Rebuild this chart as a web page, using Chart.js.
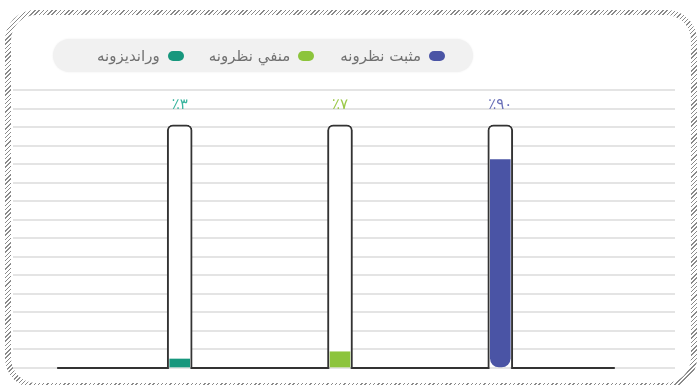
<!DOCTYPE html>
<html lang="ps" dir="ltr">
<head>
<meta charset="utf-8">
<script src="https://cdn.jsdelivr.net/npm/chart.js@4.4.1/dist/chart.umd.min.js"></script>
<style>
  html, body { margin: 0; padding: 0; background: #fff; }
  #wrap { position: relative; width: 698px; height: 385px; overflow: hidden; }
  #frame {
    position: absolute; left: 5px; top: 10px; width: 692px; height: 378px;
    border-radius: 30px;
    background: repeating-linear-gradient(135deg, #8a8a8a 0 1px, #fff 1px 3px);
  }
  #frame-inner {
    position: absolute; left: 6px; top: 5px; right: 6px; bottom: 5px;
    border-radius: 25px; background: #fff;
  }
  #legend {
    position: absolute; left: 53px; top: 39px; width: 420px; height: 33px;
    border-radius: 17px; background: #f1f1f1;
    box-shadow: 0 0 2px rgba(0,0,0,0.08);
    direction: rtl; display: flex; padding-right: 28px; box-sizing: border-box;
  }
  .item { width: 140px; display: flex; align-items: center; direction: rtl; }
  .swatch { width: 16px; height: 10px; border-radius: 5px; margin-left: 8px; }
  .item span {
    font-family: "DejaVu Sans", sans-serif; font-size: 15px; color: #707070;
  }
  #chart-box { position: absolute; left: 0; top: 0; width: 698px; height: 385px; }
</style>
</head>
<body>
<div id="wrap">
  <div id="frame"><div id="frame-inner"></div></div>
  <div id="chart-box"><canvas id="chart"></canvas></div>
  <div id="legend"></div>
</div>
<script>
// categories, values, colours
const categories = ["وراندیزونه", "منفي نظرونه", "مثبت نظرونه"];
const values = [3, 7, 90];
const barColors = ["#17977d", "#8cc43c", "#4a54a5"];
const labelColors = ["#3bb59f", "#9cc94a", "#6a70b8"];
const positions = [1, 2, 3];
const tubeValue = 105;
const yMax = 120;
const baseStart = 0.24;
const baseEnd = 3.71;

const persianDigits = "۰۱۲۳۴۵۶۷۸۹";
function toPersian(n) {
  return String(n).replace(/[0-9]/g, d => persianDigits[d]);
}

// html legend, rtl order: blue first on the right
const legend = document.getElementById("legend");
[2, 1, 0].forEach(i => {
  const item = document.createElement("div");
  item.className = "item";
  const sw = document.createElement("div");
  sw.className = "swatch";
  sw.style.background = barColors[i];
  const txt = document.createElement("span");
  txt.textContent = categories[i];
  item.appendChild(sw);
  item.appendChild(txt);
  legend.appendChild(item);
});

// baseline with gaps at the tubes + percent labels
const tubePlugin = {
  id: "tubes",
  afterDatasetsDraw(chart) {
    const ctx = chart.ctx;
    const x = chart.scales.x;
    const y = chart.scales.y;
    const base = y.getPixelForValue(0);
    const tubes = chart.getDatasetMeta(1).data;

    ctx.save();
    ctx.strokeStyle = "#333";
    ctx.lineWidth = 2;
    ctx.lineCap = "round";
    let from = x.getPixelForValue(baseStart);
    tubes.forEach(el => {
      const left = el.x - el.width / 2;
      ctx.beginPath();
      ctx.moveTo(from, base);
      ctx.lineTo(left + 1, base);
      ctx.stroke();
      from = el.x + el.width / 2 - 1;
    });
    ctx.beginPath();
    ctx.moveTo(from, base);
    ctx.lineTo(x.getPixelForValue(baseEnd), base);
    ctx.stroke();

    ctx.font = "15px 'DejaVu Sans', sans-serif";
    ctx.textAlign = "center";
    ctx.textBaseline = "middle";
    tubes.forEach((el, i) => {
      ctx.fillStyle = labelColors[i];
      ctx.fillText("٪" + toPersian(values[i]), el.x, el.y - 20);
    });
    ctx.restore();
  }
};

const ctx = document.getElementById("chart").getContext("2d");
new Chart(ctx, {
  type: "bar",
  data: {
    datasets: [
      {
        label: "fill",
        data: positions.map((p, i) => ({ x: p, y: values[i] })),
        backgroundColor: barColors,
        barThickness: 20,
        borderWidth: 0,
        borderSkipped: false,
        // only the tall blue bar has a rounded bottom
        borderRadius: c => c.dataIndex === 2
          ? { topLeft: 0, topRight: 0, bottomLeft: 9, bottomRight: 9 }
          : 0,
        minBarLength: 9,
        grouped: false,
        order: 0
      },
      {
        label: "tube",
        data: positions.map(p => ({ x: p, y: tubeValue })),
        backgroundColor: "#fff",
        borderColor: "#333",
        borderWidth: 2,
        borderSkipped: "bottom",
        borderRadius: { topLeft: 6, topRight: 6, bottomLeft: 0, bottomRight: 0 },
        barThickness: 25,
        grouped: false,
        order: 1
      }
    ]
  },
  options: {
    responsive: true,
    maintainAspectRatio: false,
    animation: false,
    layout: { padding: { left: 13, right: 23, top: 90, bottom: 17 } },
    plugins: { legend: { display: false }, tooltip: { enabled: false } },
    scales: {
      x: {
        type: "linear",
        offset: false,
        min: -0.04,
        max: 4.09,
        display: false
      },
      y: {
        min: 0,
        max: yMax,
        ticks: { display: false, stepSize: 8 },
        border: { display: false },
        grid: { color: "#e4e4e4", lineWidth: 2, drawTicks: false }
      }
    }
  },
  plugins: [tubePlugin]
});
</script>
</body>
</html>
